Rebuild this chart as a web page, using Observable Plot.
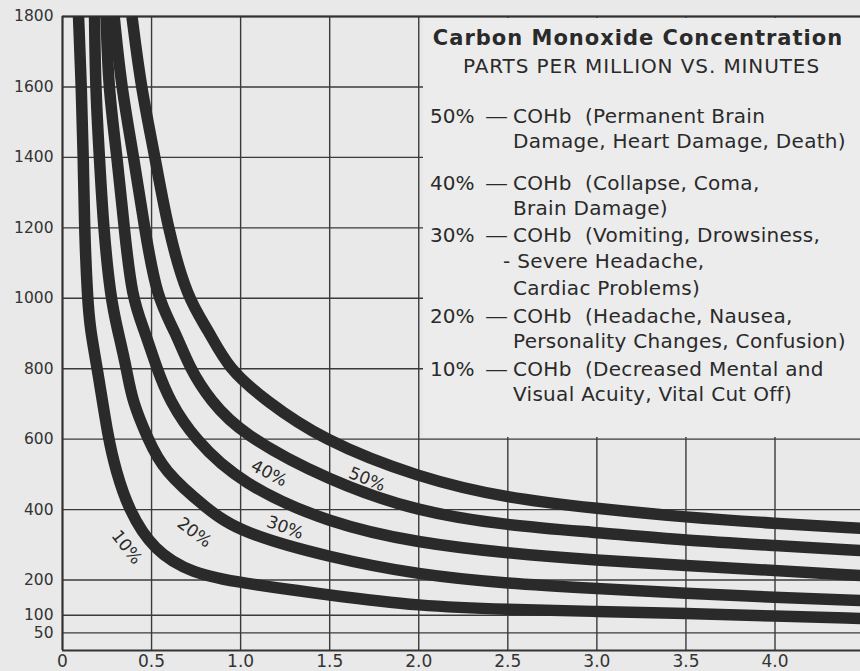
<!DOCTYPE html>
<html>
<head>
<meta charset="utf-8">
<script src="https://cdn.jsdelivr.net/npm/d3@7"></script>
<script src="https://cdn.jsdelivr.net/npm/@observablehq/plot@0.6"></script>
<style>
  html, body { margin: 0; padding: 0; background: #e9e9e9; }
  #wrap { position: relative; width: 860px; height: 671px; background: #e9e9e9; overflow: hidden; }
  #legend { position: absolute; left: 423px; top: 18px; width: 437px; height: 419px; background: #ececec;
            font-family: "DejaVu Sans", sans-serif; color: #2a2a2a; }
  #legend div { position: absolute; white-space: nowrap; line-height: 1; }
  .t { font-size: 21px; font-weight: bold; left: 0; width: 430px; text-align: center; letter-spacing: 1px; }
  .s { font-size: 20px; left: 0; width: 437px; text-align: center; letter-spacing: 0.9px; }
  .p { font-size: 20px; left: 7px; }
  .d { font-size: 20px; left: 62px; transform: scaleX(1.15); transform-origin: left center; }
  .c { font-size: 20px; left: 90px; letter-spacing: 0.3px; }
</style>
</head>
<body>
<div id="wrap">
  <div id="chart"></div>
  <div id="legend">
    <div class="t" style="top:10px">Carbon Monoxide Concentration</div>
    <div class="s" style="top:38px">PARTS PER MILLION VS. MINUTES</div>
    <div class="p" style="top:88px">50%</div><div class="d" style="top:88px">—</div><div class="c" style="top:88px">COHb&nbsp; (Permanent Brain</div>
    <div class="c" style="top:113px">Damage, Heart Damage, Death)</div>
    <div class="p" style="top:155px">40%</div><div class="d" style="top:155px">—</div><div class="c" style="top:155px">COHb&nbsp; (Collapse, Coma,</div>
    <div class="c" style="top:180px">Brain Damage)</div>
    <div class="p" style="top:207px">30%</div><div class="d" style="top:207px">—</div><div class="c" style="top:207px">COHb&nbsp; (Vomiting, Drowsiness,</div>
    <div class="c" style="top:233px; left:80px">-&nbsp;Severe Headache,</div>
    <div class="c" style="top:260px">Cardiac Problems)</div>
    <div class="p" style="top:288px">20%</div><div class="d" style="top:288px">—</div><div class="c" style="top:288px">COHb&nbsp; (Headache, Nausea,</div>
    <div class="c" style="top:313px">Personality Changes, Confusion)</div>
    <div class="p" style="top:341px">10%</div><div class="d" style="top:341px">—</div><div class="c" style="top:341px">COHb&nbsp; (Decreased Mental and</div>
    <div class="c" style="top:366px">Visual Acuity, Vital Cut Off)</div>
  </div>
</div>
<script>
// Axis ticks
const xTicks = [0, 0.5, 1.0, 1.5, 2.0, 2.5, 3.0, 3.5, 4.0];
const xTickLabels = ["0", "0.5", "1.0", "1.5", "2.0", "2.5", "3.0", "3.5", "4.0"];
const yTicks = [50, 100, 200, 400, 600, 800, 1000, 1200, 1400, 1600, 1800];

// Curves (x = time axis value, y = ppm)
const x10 = [0.09, 0.106, 0.117, 0.123, 0.14, 0.156, 0.196, 0.257, 0.30, 0.37, 0.51, 0.73, 1.0, 1.5, 2.0, 2.5, 3.0, 3.5, 4.0, 4.48];
const y10 = [1800, 1600, 1400, 1200, 1000, 909, 800, 600, 511, 400, 284, 218, 192, 157, 126, 116, 111, 105, 98, 91];
const x20 = [0.18, 0.185, 0.207, 0.23, 0.27, 0.31, 0.36, 0.39, 0.48, 0.565, 0.815, 1.0, 1.5, 2.0, 2.5, 3.0, 3.5, 4.0, 4.48];
const y20 = [1800, 1600, 1400, 1200, 1000, 909, 800, 710, 600, 511, 400, 335, 264, 215, 190, 176, 162, 151, 142];
const x30 = [0.245, 0.257, 0.307, 0.346, 0.39, 0.46, 0.53, 0.60, 0.74, 1.0, 1.5, 2.0, 2.5, 3.0, 3.5, 4.0, 4.48];
const y30 = [1800, 1600, 1400, 1200, 1000, 909, 800, 710, 600, 474, 360, 305, 276, 256, 241, 227, 213];
const x40 = [0.29, 0.33, 0.40, 0.46, 0.53, 0.63, 0.715, 0.83, 1.0, 1.5, 2.0, 2.5, 3.0, 3.5, 4.0, 4.48];
const y40 = [1800, 1600, 1400, 1200, 1000, 909, 800, 710, 616, 480, 393, 355, 335, 312, 298, 284];
const x50 = [0.39, 0.44, 0.52, 0.59, 0.70, 0.82, 0.93, 1.14, 1.45, 2.0, 2.5, 3.0, 3.5, 4.0, 4.48];
const y50 = [1800, 1600, 1400, 1200, 1000, 909, 800, 710, 600, 490, 432, 403, 378, 361, 347];

// Curve labels
const labelText = ["10%", "20%", "30%", "40%", "50%"];
const labelX = [0.36, 0.74, 1.25, 1.16, 1.71];
const labelY = [293, 335, 349, 503, 486];
const labelAngle = [52, 37, 20, 27, 22];

const series = [["10%", x10, y10], ["20%", x20, y20], ["30%", x30, y30], ["40%", x40, y40], ["50%", x50, y50]];
const curves = series.flatMap(([level, xs, ys]) => xs.map((x, i) => ({level, x, y: ys[i]})));
const labels = labelText.map((text, i) => ({text, x: labelX[i], y: labelY[i], angle: labelAngle[i]}));

const chart = Plot.plot({
  width: 860,
  height: 671,
  marginLeft: 62,
  marginRight: 0,
  marginTop: 16,
  marginBottom: 21,
  x: {domain: [0, 4.48], label: null},
  y: {domain: [0, 1800], label: null},
  style: {background: "transparent", fontFamily: "DejaVu Sans, sans-serif", fontSize: "17px", color: "#333", overflow: "visible"},
  marks: [
    Plot.ruleY(yTicks, {stroke: "#3a3a3a", strokeWidth: 1.4, strokeOpacity: 1}),
    Plot.ruleX(xTicks, {stroke: "#3a3a3a", strokeWidth: 1.4, strokeOpacity: 1}),
    Plot.ruleY([0], {stroke: "#333", strokeWidth: 2}),
    Plot.ruleY([1800], {stroke: "#333", strokeWidth: 2}),
    Plot.ruleX([0], {stroke: "#333", strokeWidth: 2}),
    Plot.line(curves, {x: "x", y: "y", z: "level", curve: "basis", stroke: "#2a2a2a", strokeWidth: 11.5, strokeLinecap: "butt", clip: true}),
    Plot.text(labels, {x: "x", y: "y", text: "text", rotate: "angle", fontSize: 17, fill: "#2a2a2a"}),
    Plot.axisX({ticks: xTicks, tickSize: 0, tickPadding: 4, label: null, tickFormat: (d) => xTickLabels[xTicks.indexOf(d)], fill: "#333", fontSize: 17}),
    Plot.axisY({ticks: yTicks, tickSize: 0, tickPadding: 9, label: null, tickFormat: (d) => String(d), fill: "#333", fontSize: 15.5})
  ]
});
document.getElementById("chart").appendChild(chart);
</script>
</body>
</html>
